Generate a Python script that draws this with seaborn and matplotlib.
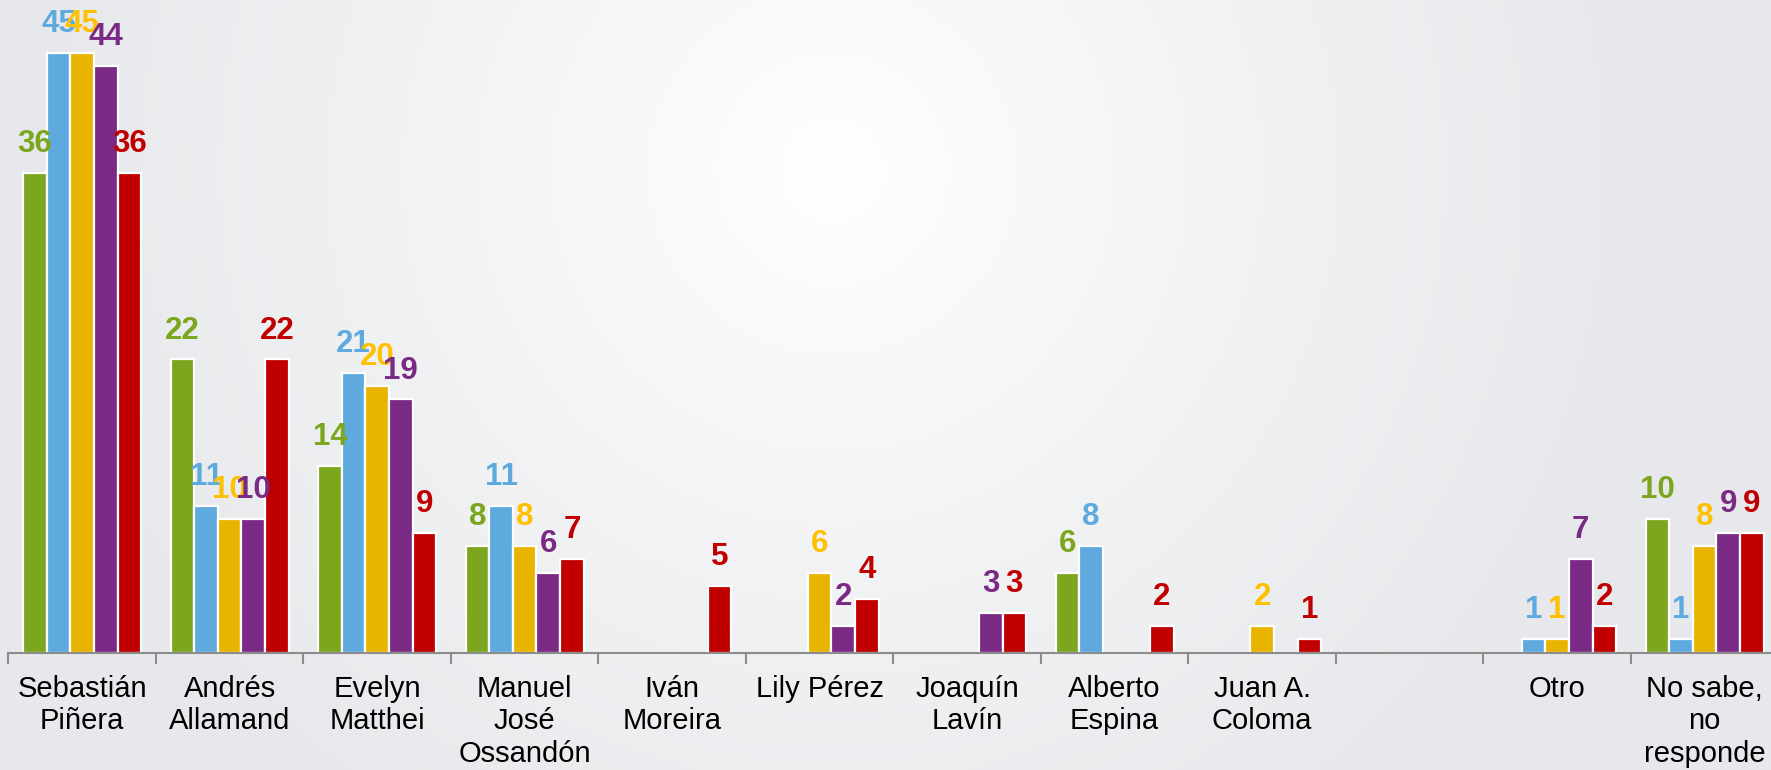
import numpy as np
import pandas as pd
import matplotlib
matplotlib.use("Agg")
import matplotlib.pyplot as plt
import seaborn as sns

# categories (one empty slot between "Juan A. Coloma" and "Otro")
candidates = [
    "Sebastián\nPiñera", "Andrés\nAllamand", "Evelyn\nMatthei",
    "Manuel\nJosé\nOssandón", "Iván\nMoreira", "Lily Pérez",
    "Joaquín\nLavín", "Alberto\nEspina", "Juan A.\nColoma", " ",
    "Otro", "No sabe,\nno\nresponde",
]

nan = np.nan
serie_1 = [36, 22, 14, 8, nan, nan, nan, 6, nan, nan, nan, 10]
serie_2 = [45, 11, 21, 11, nan, nan, nan, 8, nan, nan, 1, 1]
serie_3 = [45, 10, 20, 8, nan, 6, nan, nan, 2, nan, 1, 8]
serie_4 = [44, 10, 19, 6, nan, 2, 3, nan, nan, nan, 7, 9]
serie_5 = [36, 22, 9, 7, 5, 4, 3, 2, 1, nan, 2, 9]

series_names = ["Serie 1", "Serie 2", "Serie 3", "Serie 4", "Serie 5"]
bar_colors = ["#7BA61E", "#5EAADF", "#E9B400", "#7A2A84", "#C00000"]
label_colors = ["#7BA61E", "#5EAADF", "#FFC000", "#7A2A84", "#C00000"]

rows = []
for name, vals in zip(series_names, [serie_1, serie_2, serie_3, serie_4, serie_5]):
    for cat, v in zip(candidates, vals):
        rows.append({"candidato": cat, "serie": name, "valor": v})
df = pd.DataFrame(rows)

sns.set_style("white")
plt.rcParams["font.family"] = ["Liberation Sans", "DejaVu Sans"]

fig = plt.figure(figsize=(17.71, 7.70), dpi=100)

# soft radial background
bg = fig.add_axes([0, 0, 1, 1], zorder=-10)
yy, xx = np.mgrid[0:1:400j, 0:1:900j]
r = np.sqrt(((xx - 0.47) * 2.3) ** 2 + ((yy - 0.22) * 1.0) ** 2)
t = np.clip(r / 1.05, 0, 1) ** 0.9
edge = np.array([0.905, 0.91, 0.922])
img = 1 - t[..., None] * (1 - edge)
bg.imshow(img, aspect="auto", extent=[0, 1, 1, 0])
bg.axis("off")

ax = fig.add_axes([8.4 / 1771, 117.3 / 770, 1770 / 1771, 652.7 / 770])
ax.patch.set_alpha(0)

sns.barplot(data=df, x="candidato", y="valor", hue="serie", order=candidates,
            hue_order=series_names, palette=bar_colors, saturation=1,
            errorbar=None, width=0.8, edgecolor="white", linewidth=1.6,
            legend=False, ax=ax)

for cont, col in zip(ax.containers, label_colors):
    ax.bar_label(cont, fmt="%d", padding=10, color=col, fontsize=22.5,
                 fontweight="bold")

ax.set_xlim(-0.5, len(candidates) - 0.5)
ax.set_ylim(0, 48.96)
ax.set_xlabel("")
ax.set_ylabel("")
ax.set_yticks([])
ax.tick_params(axis="x", which="major", length=0, pad=16, labelsize=21,
               labelcolor="black")
for lbl in ax.get_xticklabels():
    lbl.set_linespacing(1.2)
ax.set_xticks(np.arange(-0.5, len(candidates), 1), minor=True)
ax.tick_params(axis="x", which="minor", bottom=True, length=8, width=1.5,
               color="#8c8c8c", direction="out")
for s in ["top", "right", "left"]:
    ax.spines[s].set_visible(False)
ax.spines["bottom"].set_color("#8c8c8c")
ax.spines["bottom"].set_linewidth(1.5)

fig.savefig("out.png", dpi=100)
